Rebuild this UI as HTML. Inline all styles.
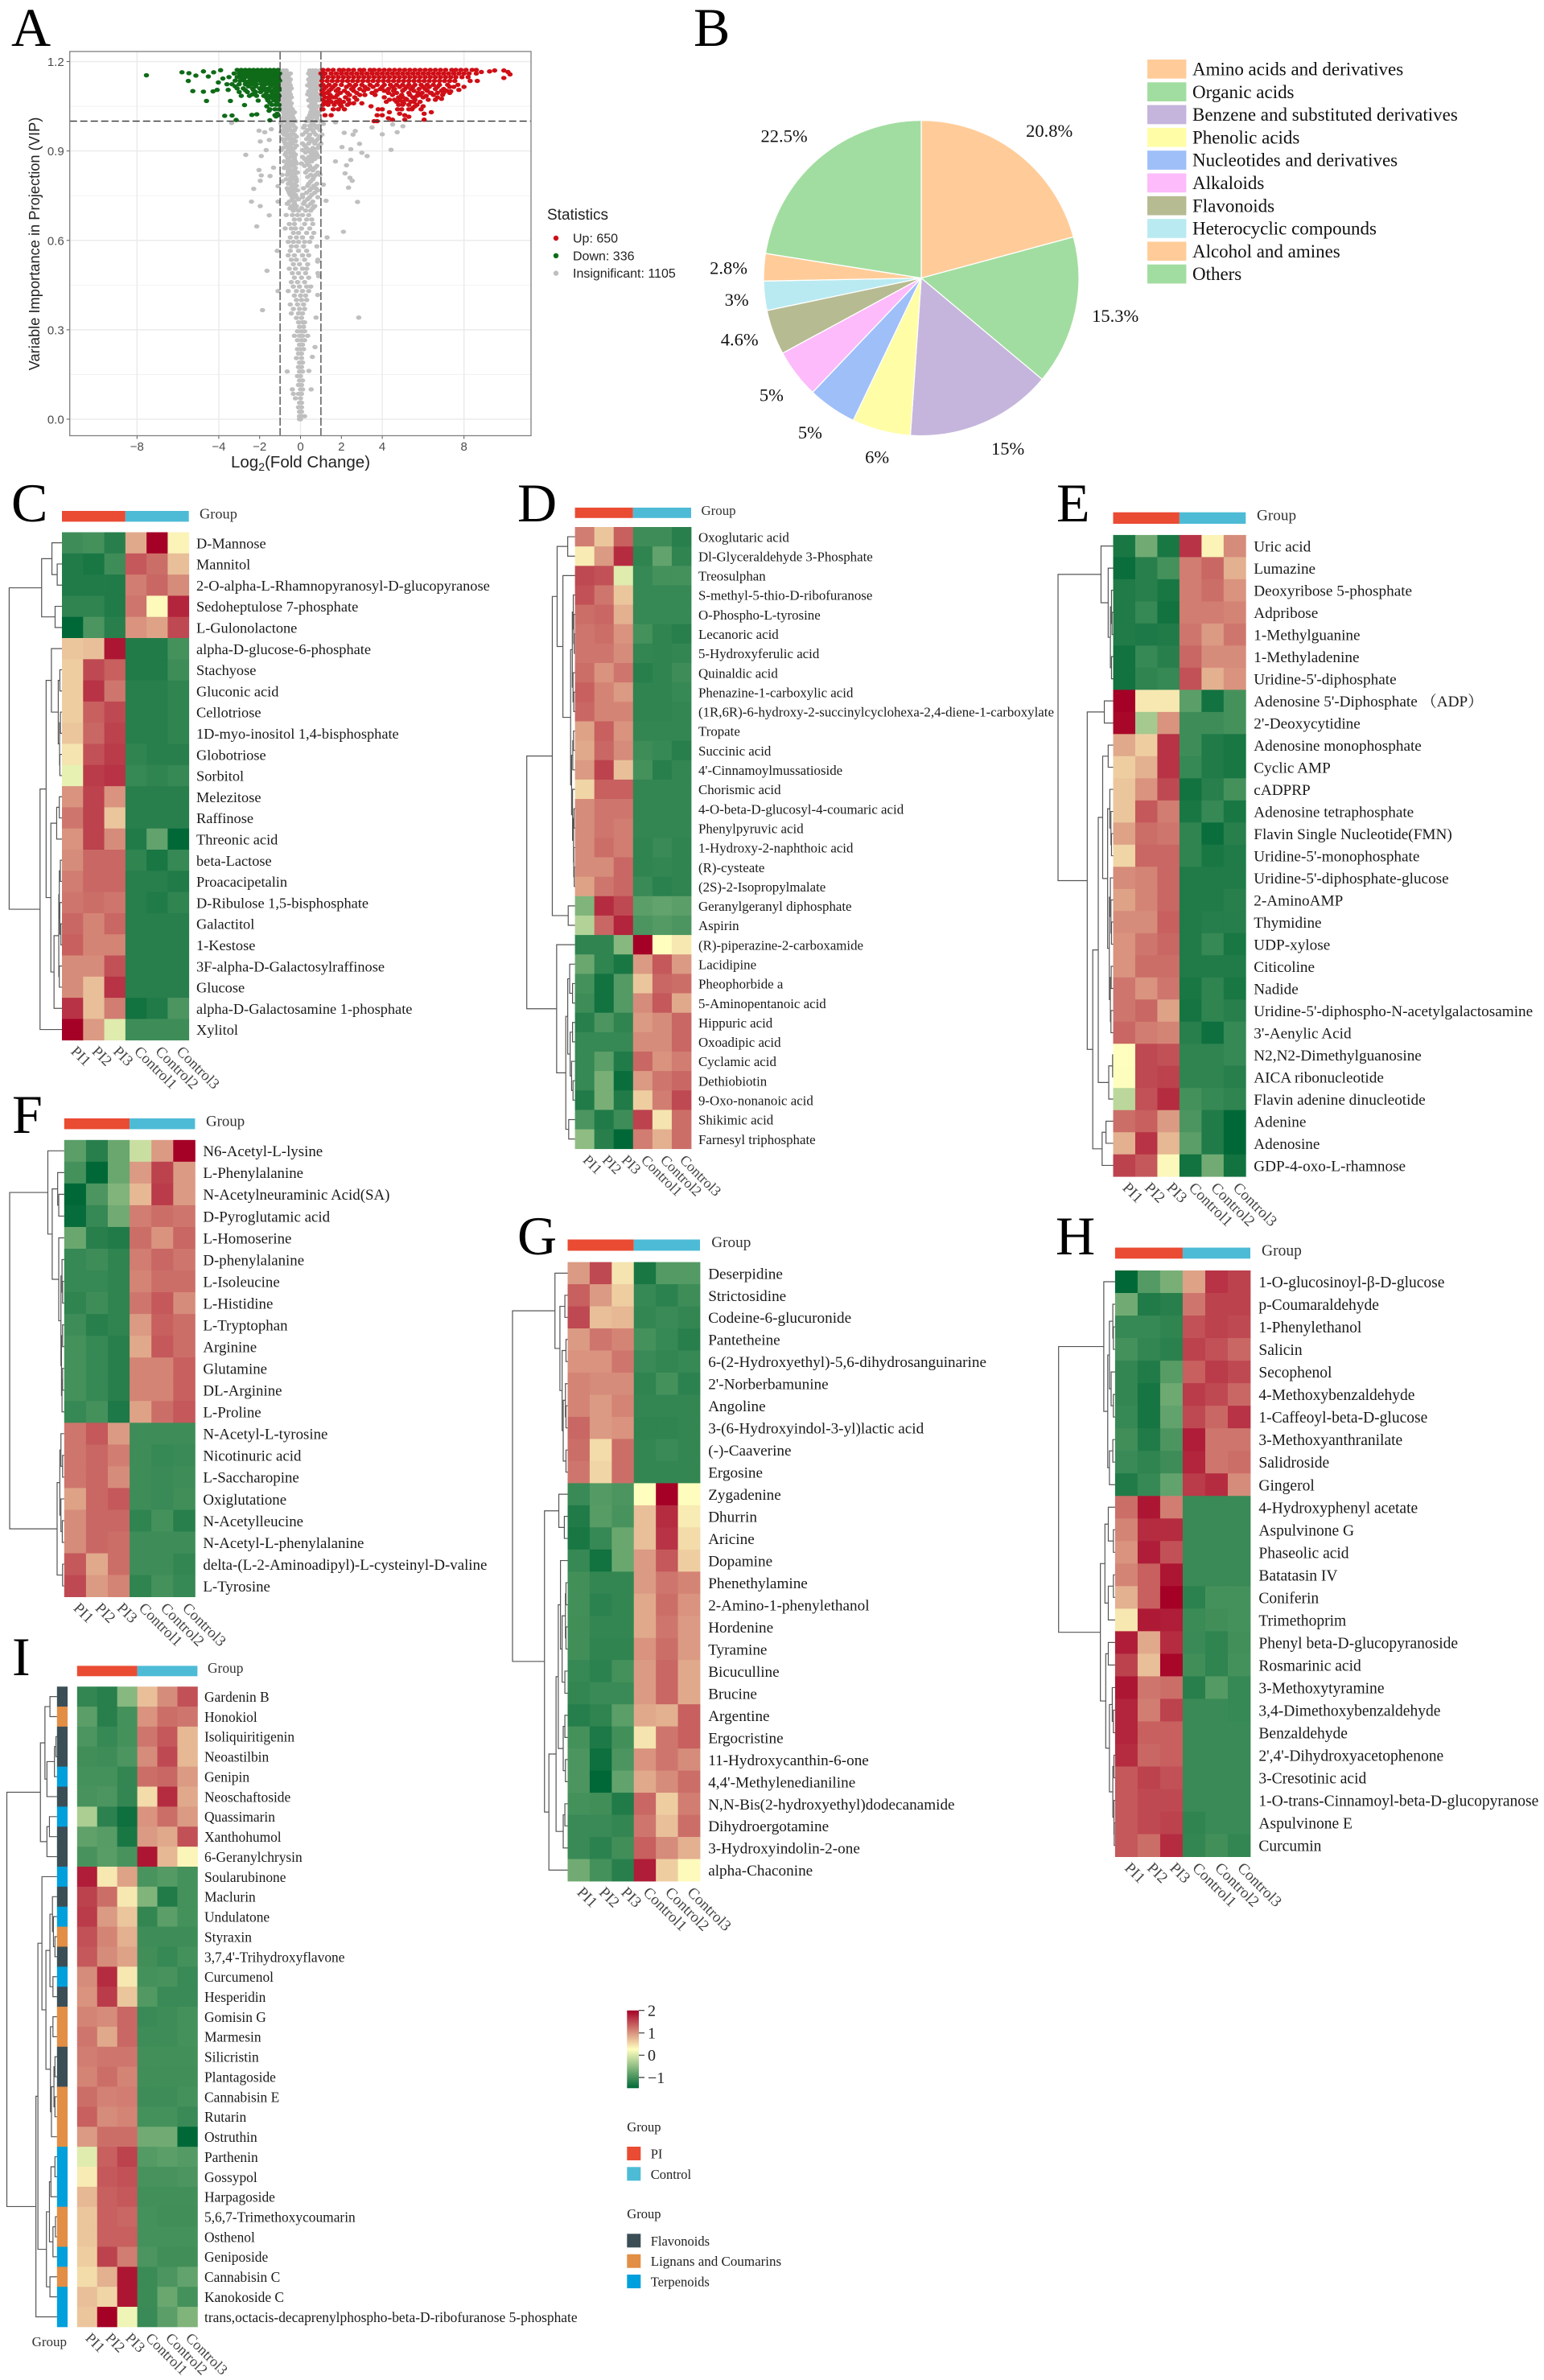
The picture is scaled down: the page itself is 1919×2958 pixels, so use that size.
<!DOCTYPE html>
<html lang="en">
<head>
<meta charset="utf-8">
<title>Metabolomics figure: volcano plot, class pie chart and heatmaps</title>
<style>
html,body{margin:0;padding:0;background:#fff;}
svg{display:block;}
.serif{font-family:"Liberation Serif","Noto Serif CJK SC",serif;}
.sans{font-family:"Liberation Sans",sans-serif;}
.letter{font-family:"Liberation Serif",serif;font-size:68px;fill:#000;}
</style>
</head>
<body>
<svg id="fig" xmlns="http://www.w3.org/2000/svg" width="1919" height="2958" viewBox="0 0 1919 2958">
<defs>
<linearGradient id="cbar" x1="0" y1="0" x2="0" y2="1">
<stop offset="0" stop-color="#A50026"/><stop offset="0.5" stop-color="#FFFFBF"/><stop offset="1" stop-color="#006837"/>
</linearGradient>
</defs>
<rect width="1919" height="2958" fill="#fff"/>
<text class="letter" x="14" y="57">A</text>
<text class="letter" x="862" y="57">B</text>
<text class="letter" x="14" y="648">C</text>
<text class="letter" x="643" y="648">D</text>
<text class="letter" x="1313" y="648">E</text>
<text class="letter" x="15" y="1408">F</text>
<text class="letter" x="643" y="1559">G</text>
<text class="letter" x="1312" y="1559">H</text>
<text class="letter" x="15" y="2082">I</text>
<g id="volcano"></g>
<g id="pie"></g>
<g id="heatmaps"></g>
<g class="serif" font-size="20" fill="#222">
<rect x="779.3" y="2498.7" width="14.7" height="96.6" fill="url(#cbar)"/>
<path d="M794 2498.7h7M794 2526.7h7M794 2554.3h7M794 2582h7" stroke="#333" stroke-width="1.2"/>
<text x="805" y="2505.5">2</text>
<text x="805" y="2533.5">1</text>
<text x="805" y="2561">0</text>
<text x="805" y="2589">−1</text>
</g>
<g class="serif" font-size="16.5" fill="#222">
<text x="779.3" y="2649">Group</text>
<rect x="779.3" y="2668" width="17" height="17" fill="#EA4B33"/>
<text x="808.7" y="2682.5">PI</text>
<rect x="779.3" y="2693.3" width="17" height="17" fill="#4DBBD6"/>
<text x="808.7" y="2708">Control</text>
<text x="779.3" y="2757">Group</text>
<rect x="779.3" y="2776.3" width="17" height="17" fill="#3B4E56"/>
<text x="808.7" y="2791">Flavonoids</text>
<rect x="779.3" y="2801.7" width="17" height="17" fill="#E28E45"/>
<text x="808.7" y="2816" font-size="17">Lignans and Coumarins</text>
<rect x="779.3" y="2827" width="17" height="17" fill="#00A0DC"/>
<text x="808.7" y="2841.5">Terpenoids</text>
</g>
</svg>
<script>
// ---------- Panel A data ----------
const xTickValues=[-8,-4,-2,0,2,4,8];
const yTickValues=[0,0.3,0.6,0.9,1.2];
const xGridValues=[-8,-4,0,4,8];
const yMinorValues=[0.15,0.45,0.75,1.05];
const legendStats=['Up: 650','Down: 336','Insignificant: 1105'];
const upRowY=[1.172,1.16,1.148,1.135,1.122,1.108,1.095,1.08,1.065,1.115,1.102,1.088,1.072,1.055,1.04];
const upRowX=[
[1.1,1.35,1.6,1.9,2.1,2.35,2.6,2.9,3.1,3.4,3.6,3.85,4.1,4.35,4.6,4.85,5.1,5.35,5.6,5.85,6.1,6.35,6.6,6.85,7.1,7.4,7.6,7.85,8.1,8.4,8.6],
[1.0,1.2,1.5,1.75,2.0,2.25,2.5,2.75,3.0,3.25,3.5,3.75,4.0,4.25,4.5,4.75,5.0,5.25,5.5,5.75,6.0,6.25,6.5,6.75,7.0,7.25,7.5,7.75,8.0,8.25,8.6],
[1.1,1.35,1.6,1.85,2.1,2.35,2.6,2.85,3.1,3.35,3.6,3.85,4.1,4.35,4.6,4.85,5.1,5.35,5.6,5.85,6.1,6.35,6.6,6.85,7.1,7.35,7.6,7.9,8.2],
[1.05,1.3,1.55,1.8,2.05,2.3,2.55,2.8,3.05,3.3,3.55,3.8,4.05,4.3,4.55,4.8,5.05,5.3,5.55,5.8,6.05,6.3,6.55,6.8,7.05,7.3,7.55],
[1.1,1.4,1.7,2.0,2.4,2.7,3.0,3.4,3.75,4.1,4.4,4.7,5.0,5.3,5.6,5.9,6.2,6.5,6.8,7.2,7.7],
[1.15,1.5,1.85,2.5,2.9,3.3,3.9,4.3,4.6,5.1,5.4,5.8,6.1,6.6,7.0],
[1.1,1.3,1.95,2.3,2.75,3.5,4.3,4.7,5.3,5.75,5.95,6.4,6.7,7.3],
[1.2,1.6,2.2,2.65,4.1,4.8,5.0,5.5,6.0,6.7],
[1.3,1.5,1.75,2.1,4.2,4.7,5.0,5.4,5.85],
[1.25,1.6,2.25,2.6,3.15,3.55,4.0,4.5,4.85,5.2,5.5,6.0,6.3,6.7,7.3,7.5],
[1.05,1.4,1.75,2.15,2.6,3.1,3.7,4.1,4.55,5.0,5.55,6.2,6.9,7.15],
[1.1,1.45,1.8,2.4,2.9,3.15,3.65,4.5,4.95,5.35,5.85,6.5,6.95],
[1.1,1.4,1.9,2.35,2.75,4.35,4.6,5.2,5.6,6.25,6.6],
[1.1,1.35,1.65,1.95,2.3,4.8,5.0,5.3,5.7],
[1.1,1.6,1.85,2.15,4.75,4.95,5.3,5.45,5.9]];
const upSparse=[[1.02,1.12],[1.05,1.09],[1.15,1.06],[1.05,1.04],[1.2,1.02],[1.5,1.02],[1.4,1.08],[1.7,1.08],[1.9,1.06],[2.0,1.05],[2.4,1.06],[2.6,1.06],[3.0,1.06],[3.45,1.05],[3.8,1.04],[4.0,1.04],[4.35,1.03],[3.75,1.02],[4.0,1.02],[4.3,1.01],[4.5,1.005],[4.85,1.025],[5.1,1.02],[5.3,1.015],[3.6,1.0],[3.75,1.0],[5.1,1.005],[6.05,1.005],[6.05,1.025],[6.4,1.03],[6.0,1.05],[5.6,1.05],[5.5,1.045],[5.05,1.06],[4.85,1.07],[5.15,1.075],[5.55,1.065],[5.7,1.085],[6.15,1.085],[6.35,1.095],[6.9,1.075],[7.0,1.095],[7.35,1.1],[7.75,1.105],[8.0,1.115],[8.3,1.135],[8.65,1.135],[9.25,1.167],[9.5,1.17],[9.95,1.17],[10.15,1.165],[10.25,1.157],[9.95,1.145],[8.85,1.165]];
const downRowY=[1.172,1.16,1.148,1.136,1.124,1.11,1.098,1.085,1.07,1.055,1.04,1.02,1.166,1.154,1.142,1.13,1.117,1.104,1.09,1.078,1.062];
const downRowX=[
[-3.1,-2.9,-2.7,-2.5,-2.3,-2.1,-1.9,-1.7,-1.5,-1.3,-1.1],
[-3.25,-3.0,-2.8,-2.6,-2.4,-2.2,-2.0,-1.8,-1.6,-1.4,-1.2,-1.02],
[-3.5,-3.1,-2.9,-2.7,-2.5,-2.3,-2.1,-1.9,-1.7,-1.5,-1.3,-1.1],
[-3.2,-2.95,-2.75,-2.5,-2.2,-2.0,-1.8,-1.6,-1.4,-1.2,-1.02],
[-3.6,-3.35,-3.0,-2.7,-2.4,-2.15,-1.9,-1.7,-1.5,-1.3,-1.1],
[-3.1,-2.8,-2.35,-2.0,-1.75,-1.55,-1.25,-1.05],
[-3.0,-2.6,-2.2,-1.95,-1.65,-1.4,-1.15],
[-2.9,-2.5,-2.15,-1.8,-1.5,-1.25,-1.05],
[-1.6,-1.3,-1.1],[-1.4,-1.2,-1.05],[-1.5,-1.25,-1.05],[-1.25,-1.1],
[-3.0,-2.8,-2.6,-2.4,-2.2,-2,-1.8,-1.6,-1.4,-1.2],
[-2.95,-2.75,-2.55,-2.35,-2.15,-1.95,-1.75,-1.55,-1.35,-1.15],
[-2.8,-2.4,-2.0,-1.6,-1.25,-1.08],
[-2.6,-2.3,-1.9,-1.5,-1.15],
[-3.2,-2.55,-2.2,-1.85,-1.45,-1.15],
[-2.7,-2.3,-1.85,-1.5,-1.3,-1.05],
[-2.35,-1.7,-1.35,-1.1],
[-1.65,-1.4,-1.15],
[-1.5,-1.15]];
const downSparse=[[-7.54,1.154],[-5.8,1.164],[-5.46,1.161],[-5.12,1.153],[-5.49,1.135],[-5.27,1.101],[-4.75,1.167],[-4.75,1.099],[-4.6,1.068],[-4.51,1.15],[-4.25,1.164],[-4.28,1.1],[-4.08,1.105],[-3.91,1.171],[-4.02,1.13],[-3.8,1.143],[-3.54,1.105],[-3.43,1.068],[-3.71,1.018],[-3.35,1.019],[-3.15,1.004],[-2.74,1.054],[-2.38,1.021],[-2.14,1.023],[-2.07,1.069],[-1.5,1.003],[-1.65,1.05],[-1.54,1.035],[-1.2,1.016],[-1.14,1.025]];
const insigRowY=[1.17,1.16,1.15,1.14,1.13,1.12,1.11,1.10,1.09,1.08,1.07,1.06,1.05,1.04,1.03,1.02,1.01,1.0,.985,.97,.955,.94,.925,.91,.895,.88,.865,.85,.835,.82,.805,.79,.775,.76,.745,.73,.715,.70,.685,.67,.655,.64,.625,.61,.595,.58,.565,.55,.535,.52,.505,.49,.475,.46,.445,.43,.415,.40,.385,.37,.355,.34,.325,.31,.295,.28,.265,.25,.235,.22,.205,.19,.175,.16,.145,.13,.115,.10,.085,.07,.055,.04,.025,.01,0,.993,.978,.963,.948,.933,.918,.903,.888,.873,.858,.843,.828,.813,.798,.783,.768,.753,.738,.723,.708];
const insigRowX=[
[-.85,-.7,.45,.6,.75,.95],[-.95,-.8,-.65,-.5,.4,.55,.7,.85],[-.9,-.75,-.6,.5,.65,.8,.95],[-.95,-.8,-.65,-.5,.4,.6,.75,.9],[-.85,-.7,-.55,.45,.6,.8],[-.95,-.8,-.65,-.5,.35,.55,.7,.9],[-.9,-.75,-.6,-.45,.5,.65,.8,.95],[-.85,-.7,-.55,.4,.6,.75],[-.95,-.8,-.65,-.5,.35,.55,.7,.9],[-.9,-.75,-.6,-.45,.5,.65,.85],[-.85,-.7,-.55,.4,.6,.8,.95],[-.9,-.75,-.6,-.45,.55,.7],[-.85,-.7,-.5,.45,.65,.85,.95],[-.95,-.75,-.6,-.4,.55,.75],[-.85,-.65,-.5,-.3,.5,.7,.9],[-.8,-.6,-.4,.45,.65,.85],[-.9,-.7,-.55,-.35,.35,.55,.8],[-.75,-.6,-.45,-.25,.3,.5,.75,1.0],
[-.9,-.7,-.55,-.35,.2,.45,.7,.9],[-.85,-.65,-.5,-.3,.35,.6,.95],[-.8,-.6,-.45,-.3,.1,.45,.75,1.05],[-.9,-.7,-.55,-.35,.3,.55,.85],[-.75,-.6,-.4,.1,.4,.7,1.0],[-.85,-.6,-.45,-.3,.3,.6,.85],[-.7,-.55,-.35,.25,.5,.75],[-.65,-.5,-.3,.1,.4,.65,.9],[-.8,-.55,-.4,-.25,.3,.55],[-.7,-.5,-.35,.2,.45,.8],[-.6,-.45,-.3,.35,.6],[-.9,-.65,-.5,-.3,.5,.75,.95],[-.7,-.55,-.4,-.2,.6],[-.6,-.45,-.3,.4,.8],[-.65,-.5,-.3,.15,.55,.75],[-.55,-.35,.3,.7],[-.4,-.2,.1,.45,.85],[-.55,-.3,.2,.6],[-.45,-.2,.35,.7],[-.35,-.1,.25,.5],[-.7,-.4,-.15,.1,.4],[-.3,-.05,.3,.55],[-.55,-.3,.2,.6],[-.75,-.45,-.25,.05,.45],[-.35,-.1,.3,.65],[-.5,-.2,.1,.55],[-.6,-.35,-.1,.2,.45],[-.45,-.2,.15,.8],[-.5,-.1,.3],[-.6,-.3,.1,.4],[-.45,-.2,.2,.85],[-.35,-.05,.35],[-.55,-.25,.1,.3],[-.4,-.1,.25,.85],[-.3,.05,.4],[-.45,-.15,.2],[-.35,-.05,.3,.5],[-.6,-.2,.1,.4],[-.3,0,.25],[-.2,.05,.3],[-.5,-.15,.15],[-.35,-.05,.2],[-.45,-.1,.1],[-.2,.05],[-.1,.1,.2],[-.05,.15],[-.15,.05,.2],[-.3,-.05,.1,.35],[-.15,.05,.2],[-.05,.1],[-.15,0,.15],[-.1,.05],[-.2,.05],[-.05,.1],[-.1,.05],[-.65,-.05,.1],[-.15,0],[-.05,.1],[-.1,.05],[-.4,0,.1],[-.35,-.1,.05],[-.25,0],[-.05,.05],[-.1,.05],[-.05,.05],[-.05,.05,.2],[-.05,0],
[-.95,-.65,-.4,.6],[-.75,-.55,-.25,.15,.5,.8],[-.95,-.7,-.4,.25,.65],[-.65,-.5,-.2,.4,.95],[-.8,-.45,-.25,.5,.75],[-.7,-.5,-.2,.2,.9],[-.95,-.6,-.4,.1,.4,.65],[-.75,-.45,-.25,.55,.8],[-.6,-.3,.2,.45,.7],[-.65,-.45,-.2,.05,.35],[-.8,-.55,-.25,.5,.7],[-.6,-.4,-.15,.25,.85],[-.45,-.25,.35,.65],[-.9,-.5,-.2,.5],[-.4,-.2,.35,.65],[-.6,-.4,-.15,.45,.85],[-.5,-.25,.1,.55],[-.4,-.1,.35],[-.65,-.3,.15,.5],[-.5,-.25,.05,.6]];
const insigSparse=[[-3.37,.994],[-2.03,.968],[-1.75,.963],[-1.43,.973],[-1.97,.932],[-1.53,.937],[-2.68,.887],[-1.92,.883],[-1.68,.903],[-2.03,.836],[-1.92,.818],[-1.49,.816],[-1.97,.80],[-2.29,.773],[-2.40,.73],[-1.97,.715],[-2.14,.647],[-1.64,.498],[-1.1,.43],[-1.86,.366],[-1.14,.565],[-1.32,.844],[-1.1,.73],[-1.53,.684],[-1.1,.782],[1.12,.991],[1.71,.996],[2.14,.961],[2.57,.955],[2.68,.967],[3.5,.979],[4.0,.956],[4.51,.989],[5.01,.983],[4.73,.963],[4.43,.904],[2.89,.924],[2.46,.906],[2.03,.913],[3.0,.894],[3.26,.883],[2.46,.87],[2.25,.852],[1.71,.865],[2.18,.825],[2.42,.81],[2.53,.80],[2.35,.777],[1.12,.787],[1.25,.733],[2.79,.729],[2.1,.629],[1.3,.61],[2.85,.341],[.71,.242],[.58,.209],[.52,.1],[.76,.341],[.84,.417],[.89,.48],[.84,.529],[.41,.162]];

// ---------- Panel B data ----------
const pieCategories=['Amino acids and derivatives','Organic acids','Benzene and substituted derivatives','Phenolic acids','Nucleotides and derivatives','Alkaloids','Flavonoids','Heterocyclic compounds','Alcohol and amines','Others'];
const pieShares=[20.8,15.3,15,6,5,5,4.6,3,2.8,22.5];
const pieLabels=['20.8%','15.3%','15%','6%','5%','5%','4.6%','3%','2.8%','22.5%'];
const pieColors=['#FFCC99','#A1DDA0','#C5B5DC','#FFFDA6','#9FBFF9','#FDBBFB','#B7BB92','#B9EAF1','#FFCC99','#A1DDA0'];

// ---------- Heatmap data ----------
const sampleNames=['PI1','PI2','PI3','Control1','Control2','Control3'];
const cLabels=['D-Mannose','Mannitol','2-O-alpha-L-Rhamnopyranosyl-D-glucopyranose','Sedoheptulose 7-phosphate','L-Gulonolactone','alpha-D-glucose-6-phosphate','Stachyose','Gluconic acid','Cellotriose','1D-myo-inositol 1,4-bisphosphate','Globotriose','Sorbitol','Melezitose','Raffinose','Threonic acid','beta-Lactose','Proacacipetalin','D-Ribulose 1,5-bisphosphate','Galactitol','1-Kestose','3F-alpha-D-Galactosylraffinose','Glucose','alpha-D-Galactosamine 1-phosphate','Xylitol'];
const cValues=[[-1.05,-1,-1.2,.85,2,.35],[-1.25,-1.3,-1.05,1.4,1.25,.7],[-1.25,-1.25,-1.25,1.15,1.3,1.05],[-1.15,-1.15,-1.25,1.2,.3,1.75],[-1.47,-.95,-1.2,1,.9,1.5],[.65,.7,1.85,-1.25,-1.25,-1],[.6,1.5,1.35,-1.25,-1.25,-1.05],[.6,1.65,1.2,-1.2,-1.2,-1.15],[.6,1.35,1.5,-1.2,-1.2,-1.15],[.65,1.3,1.55,-1.2,-1.2,-1.15],[.45,1.45,1.6,-1.15,-1.2,-1.2],[.1,1.6,1.65,-1.1,-1.15,-1.1],[1,1.55,1,-1.2,-1.2,-1.2],[1.2,1.55,.65,-1.2,-1.2,-1.2],[1,1.55,1.05,-1.25,-.8,-1.47],[1.05,1.3,1.3,-1.15,-1.3,-1.1],[1.15,1.3,1.3,-1.2,-1.2,-1.25],[1.2,1.25,1.2,-1.2,-1.25,-1.15],[1.3,1.1,1.3,-1.2,-1.2,-1.2],[1.35,1.1,1.1,-1.2,-1.2,-1.2],[1.05,1.05,1.45,-1.2,-1.2,-1.2],[1.05,.7,1.65,-1.2,-1.2,-1.2],[1.65,.7,1.15,-1.35,-1.25,-.95],[2,.95,.05,-1.05,-1.05,-1.05]];
const cTree=[1,[.385,[.19,0,[.09,0,0]],[.13,0,0]],[.415,[.3,[.2,0,[.07,[.04,0,0],[.045,[.03,0,0],[.04,0,0]]]],[.21,[.1,[.05,0,0],0],[.15,[.06,[.05,[.03,0,0],[.04,0,[.02,0,0]]],[.05,0,0]],0]]],0]];

const dLabels=['Oxoglutaric acid','Dl-Glyceraldehyde 3-Phosphate','Treosulphan','S-methyl-5-thio-D-ribofuranose','O-Phospho-L-tyrosine','Lecanoric acid','5-Hydroxyferulic acid','Quinaldic acid','Phenazine-1-carboxylic acid','(1R,6R)-6-hydroxy-2-succinylcyclohexa-2,4-diene-1-carboxylate','Tropate','Succinic acid',"4'-Cinnamoylmussatioside",'Chorismic acid','4-O-beta-D-glucosyl-4-coumaric acid','Phenylpyruvic acid','1-Hydroxy-2-naphthoic acid','(R)-cysteate','(2S)-2-Isopropylmalate','Geranylgeranyl diphosphate','Aspirin','(R)-piperazine-2-carboxamide','Lacidipine','Pheophorbide a','5-Aminopentanoic acid','Hippuric acid','Oxoadipic acid','Cyclamic acid','Dethiobiotin','9-Oxo-nonanoic acid','Shikimic acid','Farnesyl triphosphate'];
const dValues=[[1.15,.65,1.35,-1.05,-1.05,-1.2],[.4,.95,1.7,-1.15,-.8,-1.15],[1.5,1.45,.05,-1.1,-1,-1],[1.45,1.2,.65,-1.1,-1.1,-1.1],[1.25,1.3,.8,-1.1,-1.1,-1.1],[1.2,1.25,1,-1,-1.15,-1.2],[1.2,1.2,1.05,-1.12,-1.15,-1.12],[1.25,1,1.2,-1.2,-1.15,-1.05],[1.35,1.1,.95,-1.15,-1.15,-1.1],[1.3,1.1,1.1,-1.15,-1.15,-1.12],[.9,1.35,1,-1.12,-1.12,-1.12],[.85,1.3,1.05,-1.05,-1.1,-1.2],[.95,1.55,.7,-1,-1.2,-1.12],[.55,1.35,1.35,-1.12,-1.12,-1.12],[1.05,1.2,1.2,-1.12,-1.12,-1.12],[1.05,1.2,1.15,-1.12,-1.12,-1.12],[1.05,1.25,1.15,-1.15,-1.08,-1.15],[1.05,1.05,1.3,-1.15,-1.12,-1.15],[.9,1.2,1.3,-1.08,-1.18,-1.15],[-.6,1.7,1.5,-.85,-.8,-.85],[-.25,1.3,1.75,-.95,-.9,-.95],[-1.15,-1.15,-.55,2,.27,.42],[-.75,-1.15,-1.3,.95,1.4,.95],[-1,-1.35,-.9,.65,1.3,1.25],[-1.05,-1.35,-.9,1.05,1.4,.85],[-1.2,-.95,-1.15,.95,1.05,1.3],[-1.1,-1.1,-1.1,1.05,1.05,1.3],[-1.1,-.85,-1.25,1.3,1,1.15],[-1.1,-.65,-1.4,.95,1.2,1.3],[-1.25,-.65,-1.25,.6,1.15,1.5],[-.95,-1.25,-1.05,1.55,.45,1.25],[-.5,-1.2,-1.47,1.15,.8,1.25]];
const dTree=[1,[.47,[.37,[.15,0,0],[.25,0,[.09,[.055,[.035,0,[.025,0,[.015,0,0]]],[.04,0,[.025,0,0]]],[.07,[.045,[.03,0,0],0],[.05,0,[.03,[.02,0,0],[.025,0,[.015,0,0]]]]]]]],[.14,0,0]],[.38,0,[.19,[.15,[.11,0,[.05,0,0]],[.1,[.05,0,0],[.07,0,[.04,0,0]]]],[.13,0,0]]]];

const eLabels=['Uric acid','Lumazine','Deoxyribose 5-phosphate','Adpribose','1-Methylguanine','1-Methyladenine',"Uridine-5'-diphosphate","Adenosine 5'-Diphosphate （ADP）","2'-Deoxycytidine",'Adenosine monophosphate','Cyclic AMP','cADPRP','Adenosine tetraphosphate','Flavin Single Nucleotide(FMN)',"Uridine-5'-monophosphate","Uridine-5'-diphosphate-glucose",'2-AminoAMP','Thymidine','UDP-xylose','Citicoline','Nadide',"Uridine-5'-diphospho-N-acetylgalactosamine","3'-Aenylic Acid",'N2,N2-Dimethylguanosine','AICA ribonucleotide','Flavin adenine dinucleotide','Adenine','Adenosine','GDP-4-oxo-L-rhamnose'];
const eValues=[[-1.3,-.7,-1.3,1.65,.35,1.05],[-1.4,-1.2,-1,1.15,1.3,.8],[-1.25,-1.2,-1.3,1.15,1.25,1],[-1.25,-1.1,-1.35,1.15,1.15,1.1],[-1.25,-1.27,-1.25,1.2,.95,1.2],[-1.35,-1.1,-1.2,1.3,1.05,1.05],[-1.35,-1.15,-1.1,1.45,.8,1],[2,.42,.42,-.85,-1.35,-1],[1.95,-.35,1,-1.05,-1.05,-1],[.85,.6,1.65,-1.05,-1.25,-1.3],[.6,.8,1.65,-1.1,-1.25,-1.3],[.65,1,1.5,-1.35,-1.2,-1],[.65,1.4,1.15,-1.3,-1.1,-1.3],[.9,1.25,1.2,-1.15,-1.4,-1.2],[.55,1.3,1.3,-1.15,-1.3,-1.25],[1.05,1.1,1.3,-1.25,-1.25,-1.25],[.9,1.1,1.3,-1.25,-1.25,-1.2],[1.05,1.05,1.35,-1.25,-1.22,-1.22],[1,1.2,1.3,-1.25,-1.1,-1.3],[1,1.25,1.25,-1.25,-1.25,-1.25],[1.2,1,1.2,-1.3,-1.15,-1.3],[1.2,1.3,.9,-1.33,-1.15,-1.2],[1.3,1.15,1.1,-1.2,-1.38,-1.1],[.27,1.5,1.45,-1.15,-1.15,-1.1],[.25,1.5,1.55,-1.15,-1.15,-1.2],[-.2,1.45,1.7,-1,-1.1,-1.15],[1.25,1.35,.95,-.95,-1.25,-1.47],[.8,1.65,.75,-.85,-1.25,-1.47],[1.55,1.4,.32,-1.35,-.7,-1.35]];
const eTree=[1,[.22,0,[.09,0,[.05,[.03,0,[.02,0,0]],[.03,0,0]]]],[.47,[.16,0,0],[.37,[.27,[.19,[.09,0,0],[.1,[.06,0,[.04,0,[.03,0,0]]],[.07,[.05,0,[.04,0,[.03,0,0]]],[.05,[.035,0,0],[.04,0,0]]]]],[.08,[.01,0,0],0]],[.2,[.13,0,0],0]]]];

const fLabels=['N6-Acetyl-L-lysine','L-Phenylalanine','N-Acetylneuraminic Acid(SA)','D-Pyroglutamic acid','L-Homoserine','D-phenylalanine','L-Isoleucine','L-Histidine','L-Tryptophan','Arginine','Glutamine','DL-Arginine','L-Proline','N-Acetyl-L-tyrosine','Nicotinuric acid','L-Saccharopine','Oxiglutatione','N-Acetylleucine','N-Acetyl-L-phenylalanine','delta-(L-2-Aminoadipyl)-L-cysteinyl-D-valine','L-Tyrosine'];
const fValues=[[-.85,-1.2,-.75,-.1,.95,2],[-1,-1.47,-.75,.95,1.55,.95],[-1.47,-.95,-.6,.75,1.6,.95],[-1.42,-1.1,-.7,1.15,1.25,1.2],[-.75,-1.2,-1.25,1.25,1,1.3],[-1.1,-1.05,-1.15,1.15,1.3,1.2],[-1.1,-1.1,-1.15,1.1,1.25,1.25],[-1.15,-1.05,-1.15,1.2,1.4,1.05],[-1.05,-1.2,-1.15,.95,1.35,1.25],[-1,-1.1,-1.2,.85,1.4,1.25],[-1,-1.1,-1.2,1.1,1.1,1.35],[-1,-1.1,-1.2,1.1,1.1,1.35],[-1.1,-1,-1.27,.9,1.25,1.4],[1.2,1.4,.95,-1.05,-1.05,-1.05],[1.2,1.3,1.15,-1.05,-1.1,-1.08],[1.2,1.3,1.05,-1.05,-1.08,-1.05],[.9,1.3,1.4,-1.05,-1.08,-1.03],[1.05,1.3,1.3,-1.15,-1,-1.2],[1.05,1.3,1.25,-1.05,-1.05,-1.05],[1.4,.85,1.25,-1.05,-1.05,-1.12],[1.5,.95,1.1,-1.15,-1,-1.1]];
const fTree=[1,[.3,0,[.22,[.12,0,[.1,0,0]],[.1,0,[.06,[.04,0,[.03,0,0]],[.05,[.03,0,0],[.04,[.03,0,0],0]]]]]],[.13,[.08,[.06,0,[.03,0,0]],[.06,0,[.035,0,0]]],[.03,0,0]]];

const gLabels=['Deserpidine','Strictosidine','Codeine-6-glucuronide','Pantetheine','6-(2-Hydroxyethyl)-5,6-dihydrosanguinarine',"2'-Norberbamunine",'Angoline','3-(6-Hydroxyindol-3-yl)lactic acid','(-)-Caaverine','Ergosine','Zygadenine','Dhurrin','Aricine','Dopamine','Phenethylamine','2-Amino-1-phenylethanol','Hordenine','Tyramine','Bicuculline','Brucine','Argentine','Ergocristine','11-Hydroxycanthin-6-one',"4,4'-Methylenedianiline",'N,N-Bis(2-hydroxyethyl)dodecanamide','Dihydroergotamine','3-Hydroxyindolin-2-one','alpha-Chaconine'];
const gValues=[[.95,1.5,.45,-1.3,-.9,-.9],[1.35,.95,.6,-1.1,-1.17,-1.05],[1.5,.7,.75,-1.12,-1.08,-1.12],[.95,1.2,1.1,-1,-1.1,-1.2],[1,1,1.2,-1.08,-1.12,-1.1],[1.1,1.05,1.05,-1.15,-1,-1.17],[1.1,.95,1.1,-1.12,-1.12,-1.12],[1.3,.95,1,-1.15,-1.15,-1.12],[1.25,.5,1.25,-1.12,-1.08,-1.12],[1.2,.55,1.25,-1.12,-1.12,-1.12],[-1.08,-.9,-.95,.27,2,.28],[-1.25,-.88,-.98,.7,1.7,.4],[-1.3,-1.1,-.75,.7,1.65,.5],[-1.1,-1.35,-.75,.95,1.4,.6],[-1.02,-1.12,-1.12,.95,1.2,1.1],[-1.02,-1.17,-1.12,.85,1.25,1],[-1.03,-1.12,-1.12,.85,1.2,.95],[-1.03,-1.15,-1.15,1,1.25,.95],[-1.1,-1.17,-1,.95,1.3,.85],[-1.12,-1.08,-1.08,.95,1.3,.85],[-1.22,-1.15,-.85,.85,.8,1.35],[-1,-1.27,-1.02,.45,1.2,1.35],[-.95,-1.38,-.95,1,1.2,1.05],[-.95,-1.47,-.8,.85,1.05,1.25],[-1,-1.03,-1.25,1.3,.6,1.15],[-1.08,-1.08,-1.12,1.2,.7,1.25],[-1.08,-1.17,-1.03,1.35,1.05,.8],[-.7,-1,-1.2,1.8,.6,.3]];
const gTree=[1,[.23,0,[.14,[.05,0,0],[.1,[.03,0,0],[.08,[.04,0,[.03,0,0]],[.03,0,0]]]]],[.42,[.16,0,[.06,0,0]],[.34,[.21,[.17,[.13,0,[.1,[.04,[.03,0,0],[.03,0,0]],[.05,0,0]]],[.08,[.05,0,0],[.04,0,0]]],[.08,[.05,0,0],0]],0]]];

const hLabels=['1-O-glucosinoyl-β-D-glucose','p-Coumaraldehyde','1-Phenylethanol','Salicin','Secophenol','4-Methoxybenzaldehyde','1-Caffeoyl-beta-D-glucose','3-Methoxyanthranilate','Salidroside','Gingerol','4-Hydroxyphenyl acetate','Aspulvinone G','Phaseolic acid','Batatasin IV','Coniferin','Trimethoprim','Phenyl beta-D-glucopyranoside','Rosmarinic acid','3-Methoxytyramine','3,4-Dimethoxybenzaldehyde','Benzaldehyde',"2',4'-Dihydroxyacetophenone",'3-Cresotinic acid','1-O-trans-Cinnamoyl-beta-D-glucopyranose','Aspulvinone E','Curcumin'];
const hValues=[[-1.47,-.9,-.65,.9,1.65,1.55],[-.7,-1.25,-1.2,1.2,1.55,1.55],[-1.1,-1.1,-1.15,1.45,1.55,1.5],[-1,-1.12,-1.18,1.55,1.45,1.3],[-1.12,-1.25,-.88,1.35,1.6,1.5],[-1.12,-1.32,-.72,1.6,1.5,1.3],[-1.1,-1.32,-.8,1.5,1.3,1.65],[-1.03,-1.25,-.95,1.8,1.2,1.2],[-1.08,-1.15,-1.05,1.75,1.2,1.25],[-1.25,-1.1,-.8,1.6,1.7,1.05],[1.25,1.85,1.15,-1.08,-1.08,-1.08],[1.1,1.7,1.7,-1.08,-1.08,-1.08],[1,1.8,1.45,-1.08,-1.08,-1.08],[1.1,1.35,1.85,-1.08,-1.08,-1.08],[.8,1.35,2,-1.17,-1,-1],[.42,1.82,1.8,-1.07,-1.03,-1],[1.8,.85,1.7,-1.08,-1.15,-1.02],[1.55,.7,1.95,-1.03,-1.15,-1],[1.85,1.2,1.25,-1.2,-.9,-1.1],[1.75,1.15,1.55,-1.08,-1.08,-1.1],[1.75,1.35,1.35,-1.08,-1.08,-1.08],[1.7,1.3,1.35,-1.08,-1.08,-1.08],[1.4,1.55,1.45,-1.08,-1.08,-1.08],[1.4,1.5,1.5,-1.08,-1.08,-1.08],[1.4,1.5,1.55,-1.15,-1.08,-1.08],[1.4,1.25,1.7,-1.12,-1.02,-1.12]];
const hTree=[1,[.2,0,[.13,[.1,[.04,0,[.03,0,0]],[.07,0,[.03,0,0]]],[.1,[.04,0,0],0]]],[.26,[.18,[.12,0,[.03,0,0]],[.12,[.03,0,0],0]],[.165,[.12,0,0],[.1,[.05,0,[.03,0,0]],[.04,[.02,0,0],[.02,0,[.015,0,0]]]]]]];

const iLabels=['Gardenin B','Honokiol','Isoliquiritigenin','Neoastilbin','Genipin','Neoschaftoside','Quassimarin','Xanthohumol','6-Geranylchrysin','Soularubinone','Maclurin','Undulatone','Styraxin',"3,7,4'-Trihydroxyflavone",'Curcumenol','Hesperidin','Gomisin G','Marmesin','Silicristin','Plantagoside','Cannabisin E','Rutarin','Ostruthin','Parthenin','Gossypol','Harpagoside','5,6,7-Trimethoxycoumarin','Osthenol','Geniposide','Cannabisin C','Kanokoside C','trans,octacis-decaprenylphospho-beta-D-ribofuranose 5-phosphate'];
const iValues=[[-1.12,-1.2,-.55,.7,1.05,1.45],[-.85,-1.2,-1,1,1.25,1.2],[-.95,-1.1,-1,1.2,1.4,.75],[-1.03,-1.05,-.95,1.05,1.5,.75],[-1,-1,-1.12,1.25,1.3,.95],[-.98,-.95,-1.12,.5,1.7,.85],[-.3,-1.17,-1.38,1,1.25,.95],[-.82,-.88,-1.3,.95,.85,1.45],[-.98,-.87,-.98,1.85,.75,.33],[1.8,.42,.9,-.97,-.9,-1],[1.55,1.25,.42,-.6,-1.25,-1],[1.6,.95,.65,-1.12,-.85,-1],[1.45,1.1,.8,-1.05,-1.05,-1.05],[1.4,1.05,.9,-1.03,-1.1,-1],[1.05,1.7,.42,-1,-.98,-1.08],[1,1.6,.65,-.92,-1.08,-1.08],[1.1,1.05,1.3,-1.08,-1.05,-1],[1.2,.85,1.3,-1.05,-1.05,-1],[1.15,1.2,1.2,-1.02,-1.02,-1.02],[1.1,1.25,1.1,-1.03,-1.03,-1.03],[1.25,1.12,1.15,-1.05,-1.05,-1],[1.35,1.05,1.1,-1,-1,-1.08],[.95,1.25,1.25,-.7,-.7,-1.47],[.05,1.35,1.55,-.9,-.85,-.9],[.4,1.4,1.45,-.98,-.98,-.95],[.75,1.35,1.4,-1.02,-1.02,-1.02],[.65,1.35,1.3,-1,-1.03,-1.03],[.65,1.35,1.35,-1,-1,-1],[.6,1.55,1.15,-.95,-1.03,-1.03],[.5,.8,1.85,-1.07,-.95,-.8],[.7,.55,1.85,-1.07,-.75,-1],[.65,2,.15,-1.08,-.85,-.6]];
const iClasses=['F','L','F','F','T','F','T','F','F','T','F','T','L','F','T','F','L','L','F','F','L','L','L','T','T','T','L','L','T','L','T','T'];
const iTree=[1,[.33,[.24,[.14,0,0],[.2,[.05,[.02,0,0],0],0]],[.2,[.15,0,0],0]],[.42,[.38,[.3,0,[.22,[.14,[.09,0,[.07,0,[.04,0,0]]],[.08,0,0]],[.13,[.08,0,0],[.11,[.06,[.04,0,0],[.04,0,0]],0]]]],[.21,[.15,[.12,[.04,0,0],0],[.08,[.03,0,0],0]],[.14,0,0]]],0]];

const classColors={F:'#3B4E56',L:'#E28E45',T:'#00A0DC'};
const panels=[
{key:'c',labels:cLabels,values:cValues,tree:cTree,left:77,right:234.7,top:661.5,bottom:1292.7,barTop:635,barBottom:648.4,groupX:248,groupY:639,labelX:244,longest:365,rootX:11.4},
{key:'d',labels:dLabels,values:dValues,tree:dTree,left:714.6,right:859,top:655,bottom:1427.7,barTop:630.9,barBottom:643.8,groupX:871.5,groupY:634.8,labelX:868,longest:442,rootX:654.7},
{key:'e',labels:eLabels,values:eValues,tree:eTree,left:1383.5,right:1548.3,top:664.9,bottom:1462.2,barTop:636.7,barBottom:651,groupX:1562,groupY:640.8,labelX:1558.3,longest:347,rootX:1315},
{key:'f',labels:fLabels,values:fValues,tree:fTree,left:79.8,right:242.4,top:1416.8,bottom:1984.6,barTop:1390,barBottom:1403.4,groupX:256,groupY:1393.6,labelX:252.4,longest:353,rootX:12},
{key:'g',labels:gLabels,values:gValues,tree:gTree,left:705.5,right:870,top:1568.6,bottom:2338,barTop:1540.5,barBottom:1554.5,groupX:884.3,groupY:1544,labelX:880.2,longest:346,rootX:637},
{key:'h',labels:hLabels,values:hValues,tree:hTree,left:1385.9,right:1554,top:1579,bottom:2307.6,barTop:1550.6,barBottom:1564.3,groupX:1568,groupY:1554.4,labelX:1564.4,longest:348,rootX:1315.7},
{key:'i',labels:iLabels,values:iValues,tree:iTree,classes:iClasses,left:95.8,right:245.4,top:2096.2,bottom:2891.9,barTop:2070.4,barBottom:2083.3,groupX:258,groupY:2074,labelX:254,longest:464,rootX:8.5}
];

const NS='http://www.w3.org/2000/svg';
function make(parent,tag,attrs,text){
  const n=document.createElementNS(NS,tag);
  for(const k in attrs)n.setAttribute(k,attrs[k]);
  if(text!==undefined)n.textContent=text;
  parent.appendChild(n);
  return n;
}

// ---------- Panel A ----------
(function(){
  const g=document.getElementById('volcano');
  const sans='"Liberation Sans",sans-serif';
  const L=86.7,R=660,T=64,B=541.5;
  const sx=v=>373.5+v*25.4;
  const sy=v=>521-v*370.4;
  for(const v of yMinorValues){
    const line=make(g,'line',{x1:L,x2:R,y1:sy(v),y2:sy(v),stroke:'#F2F2F2','stroke-width':1});
    
    
  }
  for(const v of yTickValues){
    const line=make(g,'line',{x1:L,x2:R,y1:sy(v),y2:sy(v),stroke:'#EBEBEB','stroke-width':1.5});
    
    
    const tk=make(g,'line',{x1:L-4,x2:L,y1:sy(v),y2:sy(v),stroke:'#555','stroke-width':1});
    
    
    const t=make(g,'text',{x:L-7,y:sy(v)+5.5,'text-anchor':'end','font-family':sans,'font-size':15,fill:'#4d4d4d'},v.toFixed(1));
    
    
  }
  for(const v of xGridValues){
    const line=make(g,'line',{x1:sx(v),x2:sx(v),y1:T,y2:B,stroke:'#EBEBEB','stroke-width':1.5});
    
    
  }
  for(const v of xTickValues){
    const tk=make(g,'line',{x1:sx(v),x2:sx(v),y1:B,y2:B+4,stroke:'#555','stroke-width':1});
    
    
    const t=make(g,'text',{x:sx(v),y:560,'text-anchor':'middle','font-family':sans,'font-size':15,fill:'#4d4d4d'},String(v).replace('-','\u2212'));
    
    
  }
  function dots(rowY,rowX,sparse,color,name){
    const sg=make(g,'g',{fill:color});
    
    
    const put=(x,y)=>{
      const c=make(sg,'ellipse',{cx:sx(x),cy:sy(y),rx:3.3,ry:2.7});
      
      
    };
    rowY.forEach((y,i)=>rowX[i].forEach(x=>put(x,y)));
    sparse.forEach(p=>put(p[0],p[1]));
  }
  dots(insigRowY,insigRowX,insigSparse,'#BFBFBF','insignificant-series');
  dots(downRowY,downRowX,downSparse,'#0F6B18','down-series');
  dots(upRowY,upRowX,upSparse,'#CF0F17','up-series');
  const h=make(g,'line',{x1:L,x2:R,y1:sy(1),y2:sy(1),stroke:'#333','stroke-width':1.4,'stroke-dasharray':'9 4'});
  
  
  for(const v of [-1,1]){
    const l=make(g,'line',{x1:sx(v),x2:sx(v),y1:T,y2:B,stroke:'#333','stroke-width':1.2,'stroke-dasharray':'10 3'});
    
    
  }
  const frame=make(g,'rect',{x:L,y:T,width:R-L,height:B-T,fill:'none',stroke:'#7f7f7f','stroke-width':1.3});
  
  
  const yt=make(g,'text',{transform:'translate(49,303) rotate(-90)','text-anchor':'middle','font-family':sans,'font-size':18.3,fill:'#222'},'Variable Importance in Projection (VIP)');
  
  
  const xt=make(g,'text',{x:373.5,y:581,'text-anchor':'middle','font-family':sans,'font-size':20.5,fill:'#222'});
  
  
  make(xt,'tspan',{},'Log');
  make(xt,'tspan',{dy:4,'font-size':14},'2');
  make(xt,'tspan',{dy:-4},'(Fold Change)');
  const lt=make(g,'text',{x:680,y:273,'font-family':sans,'font-size':19,fill:'#222'},'Statistics');
  
  
  const legendColors=['#CF0F17','#0F6B18','#BFBFBF'];
  legendStats.forEach((s,i)=>{
    const y=296+i*21.8;
    const d=make(g,'circle',{cx:691,cy:y,r:3.2,fill:legendColors[i]});
    
    
    const t=make(g,'text',{x:712,y:y+5.5,'font-family':sans,'font-size':16,fill:'#222'},s);
    
    
  });
})();

// ---------- Panel B ----------
(function(){
  const g=document.getElementById('pie');
  const serif='"Liberation Serif",serif';
  const cx=1145,cy=345.6,r=196;
  const nudgeX=[9,0,11,8,2,10,6,16,7,-10];
  const nudgeY=[-2,-2,2,2,4,7,-2,1,3,-3];
  const total=pieShares.reduce((a,b)=>a+b,0);
  const pt=(a,rx,ry)=>[cx+rx*Math.sin(a),cy-ry*Math.cos(a)];
  let acc=0;
  pieShares.forEach((v,i)=>{
    const a0=acc/total*2*Math.PI;
    acc+=v;
    const a1=acc/total*2*Math.PI;
    const p0=pt(a0,r,r),p1=pt(a1,r,r);
    const d='M'+cx+' '+cy+'L'+p0[0]+' '+p0[1]+'A'+r+' '+r+' 0 '+((a1-a0)>Math.PI?1:0)+' 1 '+p1[0]+' '+p1[1]+'Z';
    const s=make(g,'path',{d:d,fill:pieColors[i],stroke:'#fff','stroke-width':1.3});
    
    
    const lp=pt((a0+a1)/2,247,228);
    const t=make(g,'text',{x:lp[0]+nudgeX[i],y:lp[1]+nudgeY[i]+7.5,'text-anchor':'middle','font-family':serif,'font-size':22.5,fill:'#111'},pieLabels[i]);
    
    
  });
  const ctx=document.createElement('canvas').getContext('2d');
  ctx.font='100px "Liberation Serif"';
  const maxW=Math.max.apply(null,pieCategories.map(c=>ctx.measureText(c).width));
  const fs=330/maxW*100;
  pieCategories.forEach((c,i)=>{
    const y=74+i*28.3;
    const s=make(g,'rect',{x:1426,y:y,width:48.4,height:23.7,fill:pieColors[i]});
    
    
    const t=make(g,'text',{x:1482,y:y+19.5,'font-family':serif,'font-size':fs,fill:'#111'},c);
    
    
  });
})();

// ---------- Heatmaps ----------
function mix(a,b,f){return a.map((c,i)=>Math.round(c+(b[i]-c)*f));}
function heatColor(v){
  const lo=-1.47,hi=2,mid=(lo+hi)/2;
  const x=Math.max(lo,Math.min(hi,v));
  const yel=[255,255,191],red=[165,0,38],grn=[0,104,55];
  const c=x>=mid?mix(yel,red,(x-mid)/(hi-mid)):mix(yel,grn,(mid-x)/(mid-lo));
  return 'rgb('+c.join(',')+')';
}
(function(){
  const root=document.getElementById('heatmaps');
  const serif='"Liberation Serif","Noto Serif CJK SC",serif';
  const ctx=document.createElement('canvas').getContext('2d');
  ctx.font='100px "Liberation Serif","Noto Serif CJK SC"';
  panels.forEach(p=>{
    const g=make(root,'g',{});
    
    
    const nR=p.values.length,nC=sampleNames.length;
    const cw=(p.right-p.left)/nC,rh=(p.bottom-p.top)/nR;
    const sx=c=>p.left+c*cw;
    const sy=r=>p.top+r*rh;
    const maxW=Math.max.apply(null,p.labels.map(l=>ctx.measureText(l).width));
    const fs=p.longest/maxW*100;
    const colFs=fs*.5+9.5;
    p.values.forEach((row,r)=>{
      row.forEach((v,c)=>{
        const rect=make(g,'rect',{x:sx(c),y:sy(r),width:cw+.4,height:rh+.4,fill:heatColor(v)});
        
        
      });
      const t=make(g,'text',{x:p.labelX,y:sy(r)+rh/2+fs*.32+.8,'font-family':serif,'font-size':fs,fill:'#1a1a1a'},p.labels[r]);
      
      
    });
    sampleNames.forEach((s,c)=>{
      const x=sx(c)+cw/2-3,y=p.bottom+15;
      const t=make(g,'text',{transform:'translate('+x+','+y+') rotate(45)','font-family':serif,'font-size':colFs,fill:'#444'},s);
      
      
    });
    const b1=make(g,'rect',{x:p.left,y:p.barTop,width:cw*3,height:p.barBottom-p.barTop,fill:'#EA4B33'});
    
    
    const b2=make(g,'rect',{x:p.left+cw*3,y:p.barTop,width:cw*3,height:p.barBottom-p.barTop,fill:'#4DBBD6'});
    
    
    const gt=make(g,'text',{x:p.groupX,y:p.groupY+fs*.3,'font-family':serif,'font-size':fs,fill:'#333'},'Group');
    
    
    let stop=p.left;
    if(p.classes){
      stop=70.8;
      p.classes.forEach((k,r)=>{
        const a=make(g,'rect',{x:70.8,y:sy(r),width:13.2,height:rh+.4,fill:classColors[k]});
        
        
      });
      const at=make(g,'text',{x:39.6,y:2916,'font-family':serif,'font-size':17,fill:'#333'},'Group');
      
      
    }
    let leaf=0,d='';
    const nodeX=h=>stop-h*(stop-p.rootX);
    function walk(n){
      if(!Array.isArray(n)){const y=sy(leaf)+rh/2;leaf++;return {x:stop,y:y};}
      const a=walk(n[1]),b=walk(n[2]),x=nodeX(n[0]);
      d+='M'+a.x+' '+a.y+'H'+x+'V'+b.y+'H'+b.x;
      return {x:x,y:(a.y+b.y)/2};
    }
    walk(p.tree);
    const den=make(g,'path',{d:d,fill:'none',stroke:'#555','stroke-width':1.2});
    
    
  });
})();
</script>
</body>
</html>
